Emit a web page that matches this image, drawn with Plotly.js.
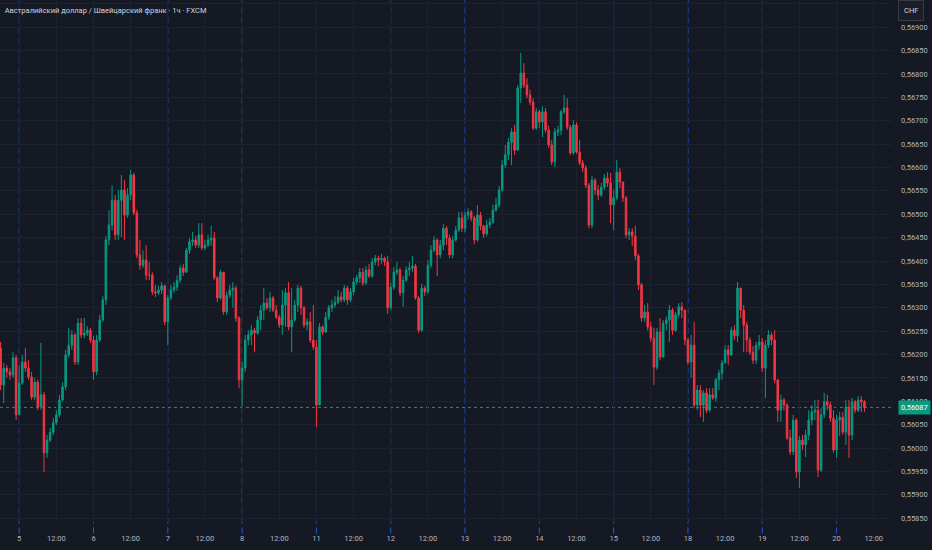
<!DOCTYPE html>
<html>
<head>
<meta charset="utf-8">
<script src="https://cdn.plot.ly/plotly-3.0.1.min.js"></script>
<style>html,body{margin:0;padding:0;background:#151924;}#chart{width:932px;height:550px;}</style>
</head>
<body>
<div id="chart"></div>
<script>
// Title / labels
const chartTitle = 'Австралийский доллар / Швейцарский франк · 1ч · FXCM';
const currencyLabel = 'CHF';
const dayLabels = ['5','6','7','8','11','12','13','14','15','18','19','20'];
const noonLabel = '12:00';
const firstCandleHour = 18;      // first bar: 18:00 of the day before "5"
const priceScale = 1e5;          // values below are in 1e-5 CHF
const firstOpen = 56214;

const closeVals = [
56135,56171,56163,56156,56193,56071,56139,56184,56171,56152,
56109,56141,56088,56114,55990,56017,56034,56054,56071,56103,
56131,56199,56220,56242,56184,56267,56242,56246,56252,56231,
56163,56231,56274,56317,56445,56477,56530,56456,56530,56552,
56498,56541,56584,56503,56413,56391,56402,56370,56370,56334,
56332,56338,56347,56270,56321,56338,56344,56359,56385,56376,
56423,56441,56445,56434,56456,56428,56434,56445,56449,56364,
56321,56376,56291,56327,56338,56342,56278,56146,56171,56231,
56242,56252,56246,56274,56295,56310,56300,56321,56295,56280,
56263,56306,56332,56259,56274,56306,56342,56300,56263,56270,
56231,56216,56092,56259,56248,56280,56300,56306,56312,56323,
56317,56342,56317,56334,56355,56364,56376,56353,56381,56368,
56398,56406,56402,56406,56398,56300,56344,56376,56381,56332,
56359,56381,56385,56389,56321,56252,56342,56334,56391,56423,
56445,56413,56434,56470,56449,56413,56445,56466,56492,56470,
56498,56505,56492,56445,56498,56475,56458,56477,56483,56509,
56520,56552,56605,56627,56654,56676,56637,56770,56802,56776,
56755,56740,56684,56719,56697,56719,56680,56648,56612,56676,
56680,56719,56727,56686,56631,56691,56633,56610,56599,56562,
56477,56573,56552,56541,56558,56577,56567,56520,56535,56590,
56569,56535,56456,56462,56453,56411,56349,56278,56291,56259,
56235,56173,56248,56195,56267,56274,56295,56252,56285,56302,
56295,56231,56184,56220,56092,56124,56092,56118,56081,56114,
56107,56146,56160,56182,56210,56199,56252,56240,56342,56295,
56263,56231,56205,56188,56220,56227,56171,56220,56242,56231,
56146,56081,56103,56092,56022,55992,56060,55949,56017,56007,
56028,56060,56077,56081,55953,56071,56099,56092,56064,55996,
56060,56066,56034,56088,56028,56099,56081,56103,56099,56087
];
const highVals = [
56227,56182,56178,56171,56205,56199,56178,56199,56214,56188,
56163,56150,56146,56225,56120,56028,56043,56064,56081,56114,
56141,56210,56257,56252,56246,56278,56278,56278,56261,56257,
56240,56242,56285,56325,56453,56509,56562,56541,56552,56584,
56573,56556,56595,56588,56509,56445,56423,56434,56398,56376,
56349,56347,56355,56349,56327,56349,56355,56370,56391,56394,
56428,56449,56462,56453,56481,56481,56445,56456,56475,56462,
56368,56381,56370,56334,56349,56355,56347,56282,56184,56242,
56252,56263,56257,56282,56306,56342,56321,56334,56325,56306,
56285,56338,56342,56355,56342,56317,56349,56347,56304,56278,
56291,56306,56231,56267,56263,56291,56306,56317,56325,56338,
56334,56349,56347,56342,56364,56370,56385,56385,56389,56394,
56406,56413,56411,56415,56409,56411,56353,56387,56398,56385,
56368,56389,56398,56411,56394,56325,56351,56347,56402,56434,
56453,56449,56445,56479,56475,56456,56453,56475,56505,56505,
56505,56513,56509,56496,56520,56505,56477,56488,56492,56520,
56535,56560,56616,56648,56663,56684,56691,56776,56845,56823,
56791,56766,56748,56727,56723,56731,56727,56689,56659,56684,
56689,56723,56755,56748,56691,56701,56697,56659,56616,56605,
56567,56582,56577,56562,56567,56586,56590,56588,56552,56616,
56599,56562,56539,56470,56470,56475,56415,56353,56306,56310,
56270,56257,56257,56278,56274,56282,56306,56300,56291,56310,
56312,56291,56235,56242,56270,56135,56135,56124,56128,56128,
56128,56150,56167,56188,56220,56220,56259,56263,56355,56338,
56306,56270,56237,56218,56227,56242,56235,56231,56252,56248,
56252,56146,56114,56107,56096,56039,56071,56064,56026,56028,
56039,56081,56092,56103,56103,56086,56118,56114,56099,56081,
56071,56077,56077,56103,56103,56107,56103,56111,56111,56103
];
const lowVals = [
56124,56096,56150,56146,56150,56060,56071,56135,56163,56146,
56103,56103,56081,56081,55949,55979,56013,56028,56049,56066,
56099,56124,56193,56210,56178,56178,56235,56235,56240,56225,
56146,56156,56227,56270,56306,56434,56466,56445,56445,56451,
56445,56492,56530,56498,56406,56381,56385,56359,56359,56327,
56323,56327,56329,56263,56220,56317,56332,56336,56353,56368,
56376,56415,56432,56428,56428,56423,56423,56430,56432,56359,
56312,56317,56285,56285,56321,56300,56270,56128,56088,56163,
56220,56220,56205,56242,56252,56274,56295,56291,56291,56276,
56257,56242,56259,56252,56205,56270,56291,56285,56257,56252,
56225,56210,56045,56092,56242,56246,56274,56291,56300,56308,
56312,56312,56306,56312,56327,56349,56353,56347,56349,56364,
56364,56391,56389,56394,56389,56287,56295,56338,56370,56325,
56302,56355,56368,56376,56317,56246,56248,56325,56329,56385,
56419,56368,56406,56423,56434,56406,56406,56441,56462,56462,
56462,56488,56485,56436,56441,56466,56449,56453,56470,56479,
56505,56515,56548,56599,56616,56605,56627,56637,56738,56770,
56748,56733,56680,56680,56684,56665,56674,56642,56605,56601,
56667,56669,56714,56680,56627,56627,56629,56605,56590,56556,
56470,56470,56541,56530,56537,56552,56558,56481,56466,56530,
56556,56526,56449,56445,56432,56402,56338,56270,56270,56252,
56227,56135,56167,56188,56193,56252,56227,56242,56248,56278,
56278,56220,56178,56150,56086,56081,56066,56056,56075,56077,
56103,56099,56124,56146,56184,56178,56197,56231,56227,56278,
56205,56205,56199,56180,56180,56210,56163,56107,56214,56220,
56139,56056,56056,56081,56017,55985,55985,55936,55915,55996,
55981,56017,56049,56060,55938,55949,56064,56081,56056,55990,
55979,56026,56028,56007,55979,56017,56075,56077,56077,56077
];

// ---- build arrays for the library ----
const n = closeVals.length;
const xIdx = closeVals.map((_, i) => i);
const openP = closeVals.map((c, i) => (i === 0 ? firstOpen : closeVals[i - 1]) / priceScale);
const closeP = closeVals.map(v => v / priceScale);
const highP = highVals.map((v, i) => Math.max(v / priceScale, openP[i], closeP[i]));
const lowP = lowVals.map((v, i) => Math.min(v / priceScale, openP[i], closeP[i]));

const firstDayStart = 24 - firstCandleHour;
const dayPos = dayLabels.map((d, k) => firstDayStart + k * 24);
const tickvals = [], ticktext = [];
dayPos.forEach((p, k) => { tickvals.push(p, p + 12); ticktext.push(dayLabels[k], noonLabel); });

const lastClose = closeP[n - 1];
const lastText = lastClose.toFixed(5).replace('.', ',');

const up = '#089981', down = '#f23645';
const trace = {
  type: 'candlestick', x: xIdx, open: openP, high: highP, low: lowP, close: closeP,
  increasing: {line: {color: up, width: 1}, fillcolor: up},
  decreasing: {line: {color: down, width: 1}, fillcolor: down},
  whiskerwidth: 0, hoverinfo: 'skip'
};

const shapes = dayPos.map(p => ({
  type: 'line', xref: 'x', yref: 'paper', x0: p, x1: p, y0: -0.022, y1: 1,
  line: {color: 'rgba(41,98,255,0.85)', width: 1, dash: '6px,4px'}, layer: 'between'
}));
shapes.push({
  type: 'line', xref: 'paper', yref: 'y', x0: 0, x1: 1, y0: lastClose, y1: lastClose,
  line: {color: up, width: 1, dash: 'dot'}, layer: 'between'
});

const font = 'Roboto, "Noto Sans", sans-serif';
const layout = {
  width: 932, height: 550,
  paper_bgcolor: '#151924', plot_bgcolor: '#151924',
  margin: {l: 0, r: 40, t: 0, b: 28},
  showlegend: false,
  separators: ', ',
  font: {family: font, color: '#b2b5be', size: 8},
  title: {text: chartTitle, x: 0.005, xanchor: 'left', y: 0.982, yanchor: 'middle', yref: 'container',
          font: {family: font, size: 7.5, color: '#d1d4dc'}},
  xaxis: {
    range: [-0.2, 287.9], tickmode: 'array', tickvals: tickvals, ticktext: ticktext,
    showgrid: true, gridcolor: '#1e222d', gridwidth: 1, zeroline: false, showline: false,
    ticks: '', ticklabelstandoff: 10, tickfont: {family: font, size: 7.5, color: '#b2b5be'},
    rangeslider: {visible: false}, fixedrange: true
  },
  yaxis: {
    side: 'right', range: [0.55842, 0.56958], tick0: 0.5585, dtick: 0.0005, tickformat: '.5f',
    showgrid: true, gridcolor: '#1e222d', gridwidth: 1, zeroline: false, showline: false,
    ticks: '', ticklabelstandoff: 8, tickfont: {family: font, size: 7.5, color: '#b2b5be'},
    fixedrange: true
  },
  shapes: shapes,
  annotations: [
    {xref: 'paper', yref: 'y', x: 1, y: lastClose, xanchor: 'left', yanchor: 'middle', xshift: 6,
     text: lastText, showarrow: false, bgcolor: up, borderpad: 2,
     font: {family: font, size: 7.5, color: '#ffffff'}},
    {xref: 'paper', yref: 'paper', x: 1.0215, y: 0.979, xanchor: 'center', yanchor: 'middle',
     text: currencyLabel, showarrow: false, bgcolor: '#1a1e29', bordercolor: '#363a45', borderwidth: 1,
     borderpad: 5, font: {family: font, size: 7.5, color: '#d1d4dc'}}
  ]
};

Plotly.newPlot('chart', [trace], layout, {displayModeBar: false, staticPlot: true});
</script>
</body>
</html>
